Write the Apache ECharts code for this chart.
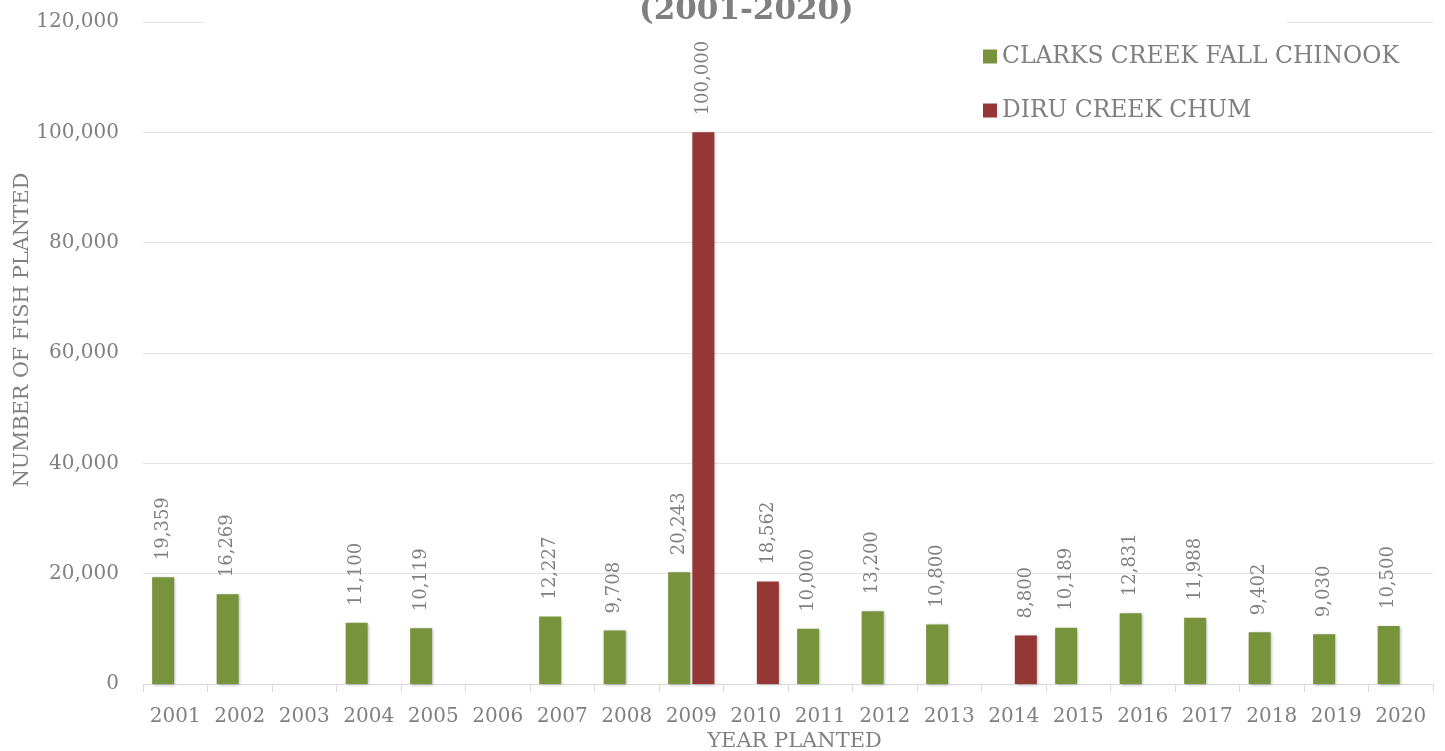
<!DOCTYPE html>
<html>
<head>
<meta charset="utf-8">
<script src="https://cdn.jsdelivr.net/npm/echarts@6/dist/echarts.min.js"></script>
<style>html,body{margin:0;padding:0;background:#fff;}#chart{width:1445px;height:751px;}</style>
</head>
<body>
<div id="chart"></div>
<script>
const years = ['2001','2002','2003','2004','2005','2006','2007','2008','2009','2010','2011','2012','2013','2014','2015','2016','2017','2018','2019','2020'];
const clarksChinook = [19359, 16269, null, 11100, 10119, null, 12227, 9708, 20243, null, 10000, 13200, 10800, null, 10189, 12831, 11988, 9402, 9030, 10500];
const diruChum = [null, null, null, null, null, null, null, null, 100000, 18562, null, null, null, 8800, null, null, null, null, null, null];
const seriesNames = ['CLARKS CREEK FALL CHINOOK', 'DIRU CREEK CHUM'];
const titleText = '(2001-2020)';
const yAxisTitle = 'NUMBER OF FISH PLANTED';
const xAxisTitle = 'YEAR PLANTED';

const FONT = 'DejaVu Serif';
const GRAY = '#808080';
const chart = echarts.init(document.getElementById('chart'), null, {renderer: 'canvas'});
const fmt = v => Number(v).toLocaleString('en-US');
const labelCfg = {
  show: true, position: 'top', rotate: 90, align: 'left', verticalAlign: 'middle',
  distance: 17, color: GRAY, fontFamily: FONT, fontSize: 18,
  formatter: p => fmt(p.value)
};
const shadow = {shadowColor: 'rgba(0,0,0,0.3)', shadowBlur: 3, shadowOffsetX: 1, shadowOffsetY: 1};
chart.setOption({
  animation: false,
  backgroundColor: '#fff',
  title: {
    text: titleText, left: 634, top: -10, z: 20,
    textStyle: {fontFamily: FONT, fontWeight: 'bold', fontSize: 31, color: GRAY}
  },
  graphic: [{
    type: 'rect', left: 205, top: 12, z: 10,
    shape: {width: 1082, height: 20}, style: {fill: '#fff'}
  }],
  legend: {
    orient: 'vertical', left: 983, top: 45, padding: 0, itemWidth: 14, itemHeight: 14, itemGap: 31,
    icon: 'rect', selectedMode: false,
    textStyle: {fontFamily: FONT, fontSize: 23.4, color: GRAY},
    data: seriesNames
  },
  grid: {left: 143, right: 12, top: 22, bottom: 67, containLabel: false, outerBoundsMode: 'none'},
  xAxis: {
    type: 'category', data: years,
    name: xAxisTitle, nameLocation: 'middle', nameGap: 47, nameMoveOverlap: false,
    nameTextStyle: {fontFamily: FONT, fontSize: 21, color: GRAY, padding: [0,0,0,13]},
    axisLine: {lineStyle: {color: '#d9d9d9', width: 1}},
    axisTick: {show: true, length: 8, lineStyle: {color: '#d9d9d9'}},
    axisLabel: {fontFamily: FONT, fontSize: 20, color: GRAY, margin: 23, interval: 0}
  },
  yAxis: {
    type: 'value', min: 0, max: 120000, interval: 20000,
    name: yAxisTitle, nameLocation: 'middle', nameGap: 110, nameMoveOverlap: false,
    nameTextStyle: {fontFamily: FONT, fontSize: 20.7, color: GRAY, padding: [0,0,0,46]},
    axisLine: {show: false}, axisTick: {show: false},
    splitLine: {lineStyle: {color: '#e3e3e3', width: 1}},
    axisLabel: {fontFamily: FONT, fontSize: 20, color: GRAY, margin: 24, formatter: v => fmt(v)}
  },
  series: [
    {name: seriesNames[0], type: 'bar', data: clarksChinook, barWidth: 22, barGap: '10%',
     itemStyle: Object.assign({color: '#77933c'}, shadow), label: labelCfg},
    {name: seriesNames[1], type: 'bar', data: diruChum, barWidth: 22, barGap: '10%',
     itemStyle: Object.assign({color: '#953735'}, shadow), label: labelCfg}
  ]
});
</script>
</body>
</html>
